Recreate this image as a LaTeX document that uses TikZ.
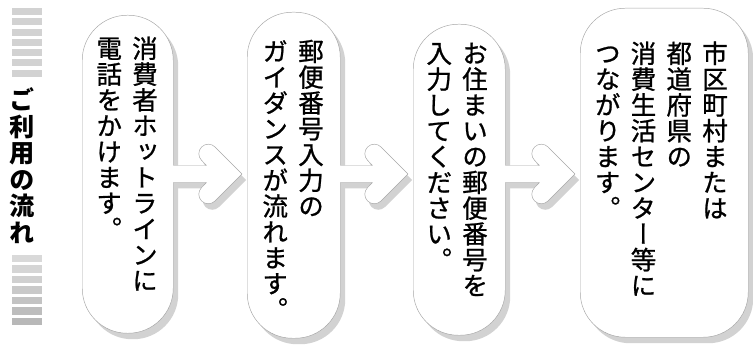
\documentclass[tikz,border=0pt]{standalone}
\usepackage{fontspec}
\usetikzlibrary{calc,shadows,positioning}
\newfontfamily\jpfont{Noto Sans CJK JP}[RawFeature=+vert]
\newfontfamily\jpmed{Noto Sans CJK JP}[RawFeature=+vert,FakeBold=0.9]
\newlength\tatepitch
\makeatletter
\newcommand\tatecol[1]{\vtop{\baselineskip=\tatepitch\lineskip=0pt\lineskiplimit=-\maxdimen
  \@tfor\tc@ch:=#1\do{\hbox to 1em{\hss\tc@ch\hss}}}}
\makeatother
\newcommand\tatefont{\jpmed\fontsize{21.8pt}{22pt}\selectfont\setlength\tatepitch{1.01em}}
\newcommand\titlefont{\jpfont\bfseries\fontsize{21.5pt}{22pt}\selectfont\setlength\tatepitch{1.05em}}
\newcommand\colgap{\kern0.4em}
\tikzstyle{flowbox}=[rectangle,rounded corners=13.5mm,draw=gray!70,thin,fill=white,
  inner sep=0pt,anchor=north west,
  drop shadow={shadow xshift=1.5mm,shadow yshift=-1.8mm,fill=gray!35,opacity=1}]
\tikzstyle{tatetext}=[font=\tatefont,inner sep=0pt,anchor=base east]
\tikzstyle{arrowfill}=[fill=white,
  drop shadow={shadow xshift=1.2mm,shadow yshift=-1.8mm,fill=gray!35,opacity=1}]
\tikzstyle{arrowline}=[draw=gray!70,thin,line join=round]
% fat chevron from one box to the next
\newcommand\flowarrow[2]{%
  \coordinate (#1-tip) at ($(#2.west |- flowline)+(-5,0)$);
  \coordinate (#1-root) at (#1.east |- flowline);
  \path[arrowfill] ($(#1-root)+(-2,-8.5)$) -- ($(#1-tip)+(-35.5,-8.5)$)
    -- ($(#1-tip)+(-40.4,-13.6)$) arc[start angle=135,end angle=315,radius=9.5]
    -- (#1-tip) -- ($(#1-tip)+(-27,27)$) arc[start angle=45,end angle=225,radius=9.5]
    -- ($(#1-tip)+(-35.5,8.5)$) -- ($(#1-root)+(-2,8.5)$) -- cycle;
  \draw[arrowline] ($(#1-root)+(0,-8.5)$) -- ($(#1-tip)+(-35.5,-8.5)$)
    -- ($(#1-tip)+(-40.4,-13.6)$) arc[start angle=135,end angle=315,radius=9.5]
    -- (#1-tip) -- ($(#1-tip)+(-27,27)$) arc[start angle=45,end angle=225,radius=9.5]
    -- ($(#1-tip)+(-35.5,8.5)$) -- ($(#1-root)+(0,8.5)$);
}

\begin{document}
\begin{tikzpicture}[x=0.3mm,y=-0.3mm]
    \useasboundingbox (0,0) rectangle (753,347);
    \coordinate (flowline) at (0,174);

    % title with stripes
    \foreach \i in {0,...,6}
      \fill[gray!35] (12,8+10.3*\i) rectangle ++(30,7);
    \foreach \i/\s in {0/30,1/33,2/37,3/42,4/47,5/52,6/56}
      \fill[gray!\s] (12,255+10.5*\i) rectangle ++(30,7.5);
    \node[font=\titlefont,inner sep=0pt,anchor=base] (title) at (22.5,110) {\tatecol{ご利用の流れ}};

    % steps
    \node[flowbox,minimum width=27.3mm,minimum height=95.4mm] (hotline) at (82,15) {};
    \node[flowbox,minimum width=27.9mm,minimum height=97.8mm] (guidance) at (247,12) {};
    \node[flowbox,minimum width=27.6mm,minimum height=93.3mm] (zipcode) at (413,24) {};
    \node[flowbox,minimum width=50.4mm,minimum height=98.7mm] (office) at (580,8) {};

    \flowarrow{hotline}{guidance}
    \flowarrow{guidance}{zipcode}
    \flowarrow{zipcode}{office}

    \node[tatetext] (hotline-text) at (158,58) {\tatecol{電話をかけます。}\colgap\tatecol{消費者ホットラインに}};
    \node[tatetext] (guidance-text) at (324,61) {\tatecol{ガイダンスが流れます。}\colgap\tatecol{郵便番号入力の}};
    \node[tatetext] (zipcode-text) at (488,63) {\tatecol{入力してください。}\colgap\tatecol{お住まいの郵便番号を}};
    \node[tatetext] (office-text) at (728,63) {\tatecol{つながります。}\colgap\tatecol{消費生活センター等に}\colgap\tatecol{都道府県の}\colgap\tatecol{市区町村または}};
\end{tikzpicture}
\end{document}
